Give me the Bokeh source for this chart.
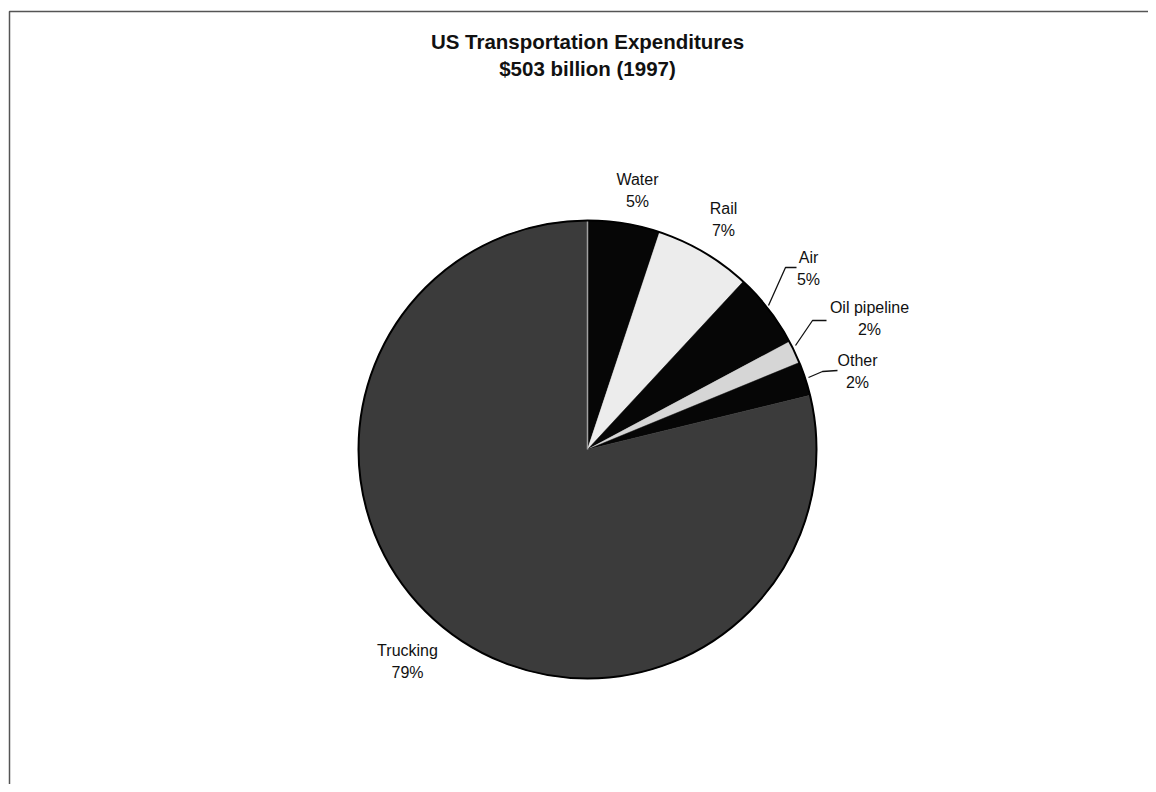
import math
from bokeh.plotting import figure
from bokeh.models import Range1d, ColumnDataSource
from bokeh.core.properties import value
from bokeh.embed import file_html
from bokeh.resources import INLINE

# ---- data ----
categories = ["Water", "Rail", "Air", "Oil pipeline", "Other", "Trucking"]
shares = [5.1, 6.8, 5.3, 1.6, 2.4, 78.8]          # percent of total, clockwise from 12 o'clock
pct_labels = ["5%", "7%", "5%", "2%", "2%", "79%"]
title_lines = ["US Transportation Expenditures", "$503 billion (1997)"]

# ---- styles / layout ----
colors = ["#060606", "#ececec", "#060606", "#d6d6d6", "#060606", "#3b3b3b"]
FONT = "Liberation Sans"
W, H = 1148, 784


def Y(py):
    """page pixel y -> data y"""
    return 792 - py


p = figure(width=W, height=H, x_range=Range1d(0, W), y_range=Range1d(792 - H, 792),
           output_backend="svg", toolbar_location=None, min_border=0)
p.axis.visible = False
p.grid.visible = False
p.outline_line_color = None
p.background_fill_color = "white"
p.border_fill_color = "white"

# page frame (left and top edges visible in the reference)
p.line(x=[9, 9, W], y=[Y(792), Y(11), Y(11)], line_color="#555555", line_width=1.5)

# ---- pie ----
cx, cy, R = 587, Y(449), 229
total = sum(shares)
starts, ends = [], []
cum = 0.0
for s in shares:
    a_end = math.pi / 2 - 2 * math.pi * cum / total
    cum += s
    a_start = math.pi / 2 - 2 * math.pi * cum / total
    starts.append(a_start)
    ends.append(a_end)

src = ColumnDataSource(dict(cat=categories, share=shares, start=starts, end=ends, color=colors))
p.wedge(x=cx, y=cy, radius=R, start_angle="start", end_angle="end", direction="anticlock",
        fill_color="color", line_color="color", line_width=0.5, source=src)

# faint boundary between Trucking and Water (at 12 o'clock)
p.segment(x0=[cx], y0=[cy], x1=[cx + R * math.cos(ends[0])], y1=[cy + R * math.sin(ends[0])],
          line_color="#a0a0a0", line_width=1.5)

# circle outline
p.circle(x=[cx], y=[cy], radius=R, fill_color=None, line_color="black", line_width=2)

# ---- labels ----
label_pos = {  # (center x, page y of first line)
    "Water": (637, 179),
    "Rail": (723, 208),
    "Air": (808, 257),
    "Oil pipeline": (869, 307),
    "Other": (857, 360),
    "Trucking": (407, 650),
}
LINE = 22
lx = [label_pos[c][0] for c in categories]
ly1 = [Y(label_pos[c][1]) for c in categories]
ly2 = [Y(label_pos[c][1] + LINE) for c in categories]
p.text(x=lx, y=ly1, text=categories, text_align="center", text_baseline="middle",
       text_font=value(FONT), text_font_size="16px", text_color="#111111")
p.text(x=lx, y=ly2, text=pct_labels, text_align="center", text_baseline="middle",
       text_font=value(FONT), text_font_size="16px", text_color="#111111")

# leader lines for the small slices
leaders_x = [[768, 785, 796], [795, 812, 826], [808, 822, 837]]
leaders_y = [[Y(305), Y(267), Y(267)], [Y(345), Y(320), Y(320)], [Y(377), Y(371), Y(370)]]
p.multi_line(xs=leaders_x, ys=leaders_y, line_color="#111111", line_width=1.3)

# ---- title ----
p.text(x=[587, 587], y=[Y(41), Y(68)], text=title_lines, text_align="center", text_baseline="middle",
       text_font=value(FONT), text_font_style="bold", text_font_size="20.5px", text_color="#111111")

open("out.html", "w").write(file_html(p, INLINE))
